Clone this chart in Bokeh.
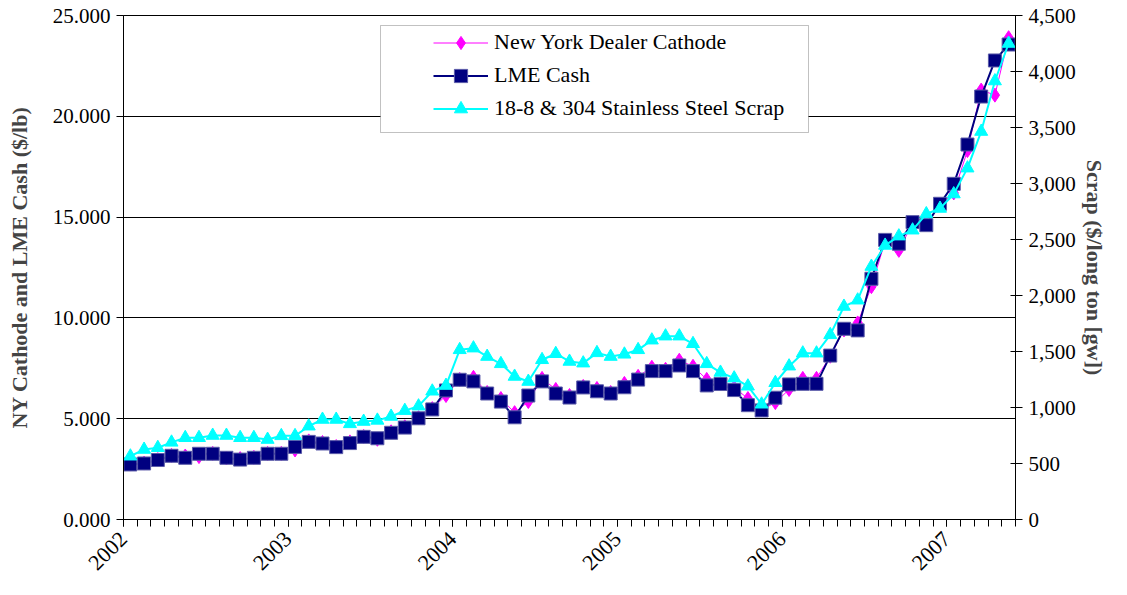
import math
from bokeh.plotting import figure
from bokeh.models import (Range1d, LinearAxis, FixedTicker, NumeralTickFormatter,
                          Legend, LegendItem, BoxAnnotation)
from bokeh.embed import file_html
from bokeh.resources import INLINE

# ---- data (monthly, Jan 2002 .. May 2007) ----
years = ["2002", "2003", "2004", "2005", "2006", "2007"]
months = list(range(65))

ny_cathode = [2.75, 2.80, 2.97, 3.18, 3.15, 3.12, 3.28, 3.05, 3.02, 3.08, 3.28, 3.28,
              3.45, 3.90, 3.82, 3.62, 3.85, 4.12, 3.98, 4.35, 4.60, 5.05, 5.50, 6.15,
              6.95, 7.05, 6.30, 6.00, 5.30, 5.85, 7.00, 6.45, 6.15, 6.60, 6.50, 6.30,
              6.75, 7.10, 7.55, 7.45, 7.90, 7.60, 6.95, 6.75, 6.55, 6.00, 5.45, 5.80,
              6.45, 7.00, 7.00, 8.10, 9.40, 9.75, 11.55, 13.80, 13.35, 14.70, 14.70, 15.60,
              16.20, 18.30, 21.30, 21.05, 23.90]

lme_cash = [2.73, 2.78, 2.95, 3.16, 3.06, 3.26, 3.26, 3.06, 2.97, 3.06, 3.26, 3.26,
            3.60, 3.85, 3.77, 3.59, 3.79, 4.10, 4.03, 4.30, 4.56, 5.02, 5.46, 6.40,
            6.93, 6.85, 6.25, 5.85, 5.07, 6.15, 6.85, 6.25, 6.05, 6.55, 6.36, 6.25,
            6.56, 6.94, 7.36, 7.36, 7.64, 7.36, 6.65, 6.72, 6.42, 5.67, 5.41, 6.04,
            6.70, 6.73, 6.73, 8.13, 9.46, 9.38, 11.94, 13.87, 13.68, 14.75, 14.60, 15.66,
            16.65, 18.60, 20.98, 22.77, 23.56]

scrap = [565, 625, 641, 689, 730, 730, 750, 750, 730, 730, 714, 747,
         747, 833, 893, 893, 854, 875, 885, 920, 972, 1012, 1145, 1196,
         1515, 1530, 1455, 1390, 1277, 1232, 1426, 1480, 1411, 1396, 1488, 1455,
         1475, 1515, 1601, 1637, 1637, 1569, 1390, 1313, 1262, 1190, 1029, 1221,
         1369, 1485, 1485, 1649, 1902, 1958, 2259, 2447, 2530, 2583, 2728, 2777,
         2906, 3137, 3464, 3915, 4250]

left_ticks = [0, 5, 10, 15, 20, 25]
right_ticks = [0, 500, 1000, 1500, 2000, 2500, 3000, 3500, 4000, 4500]

FONT = "Liberation Serif"
W, H = 1111, 579
BL, BR, BT, BB = 123, 96, 15, 60
FW, FH = W - BL - BR, H - BT - BB
N = len(months)

p = figure(width=W, height=H, output_backend="svg", toolbar_location=None,
           x_range=Range1d(-0.5, N - 0.5), y_range=Range1d(0, 25),
           min_border_left=BL, min_border_right=BR, min_border_top=BT, min_border_bottom=BB,
           x_axis_location="below", y_axis_location="left")
p.background_fill_color = "white"
p.border_fill_color = "white"
p.outline_line_color = "black"
p.outline_line_width = 1
p.extra_y_ranges = {"scrap": Range1d(0, 4500)}

# grid
p.xgrid.visible = False
p.ygrid.ticker = FixedTicker(ticks=left_ticks)
p.ygrid.grid_line_color = "black"
p.ygrid.grid_line_width = 1

# x axis
xa = p.xaxis[0]
year_ticks = [-0.5 + 12 * k for k in range(len(years))]
xa.ticker = FixedTicker(ticks=year_ticks, minor_ticks=[-0.5 + k for k in range(N + 1)])
xa.major_label_overrides = {t: y for t, y in zip(year_ticks, years)}
xa.major_label_orientation = math.pi / 4
xa.major_tick_in = 0
xa.major_tick_out = 7
xa.minor_tick_in = 0
xa.minor_tick_out = 7
xa.major_label_standoff = 9
xa.axis_line_color = "black"
xa.major_label_text_font = FONT
xa.major_label_text_font_size = "22px"
xa.major_label_text_color = "black"

# left axis
ya = p.yaxis[0]
ya.ticker = FixedTicker(ticks=left_ticks)
ya.formatter = NumeralTickFormatter(format="0.000")
ya.major_tick_in = 0
ya.major_tick_out = 7
ya.minor_tick_line_color = None
ya.major_label_standoff = 6
ya.major_label_text_font = FONT
ya.major_label_text_font_size = "21px"
ya.major_label_text_color = "black"
ya.axis_label = "NY Cathode and LME Cash ($/lb)"
ya.axis_label_text_font = FONT
ya.axis_label_text_font_size = "22px"
ya.axis_label_text_font_style = "bold"
ya.axis_label_standoff = 18

# right axis
ra = LinearAxis(y_range_name="scrap", ticker=FixedTicker(ticks=right_ticks),
                formatter=NumeralTickFormatter(format="0,0"))
ra.major_tick_in = 5
ra.major_tick_out = 7
ra.minor_tick_line_color = None
ra.major_label_standoff = 6
ra.major_label_text_font = FONT
ra.major_label_text_font_size = "21px"
ra.major_label_text_color = "black"
ra.axis_label = "Scrap ($/long ton [gw])"
ra.axis_label_text_font = FONT
ra.axis_label_text_font_size = "22px"
ra.axis_label_text_font_style = "bold"
ra.axis_label_standoff = 3
p.add_layout(ra, "right")

# series
ny_l = p.line(months, ny_cathode, line_color="#FF00FF", line_width=1)
ny_m = p.scatter(months, ny_cathode, marker="diamond", size=14,
                 fill_color="#FF00FF", line_color="#FF00FF")
lme_l = p.line(months, lme_cash, line_color="#000080", line_width=2)
lme_m = p.scatter(months, lme_cash, marker="square", size=13,
                  fill_color="#000080", line_color="#5a5aa8", line_width=1)
sc_l = p.line(months, scrap, line_color="#00FFFF", line_width=2, y_range_name="scrap")
sc_m = p.scatter(months, scrap, marker="triangle", size=13,
                 fill_color="#00FFFF", line_color="#00FFFF", y_range_name="scrap")

# legend box (pixel layout converted to data space)
px_x = FW / N
px_y = FH / 25.0
def fx(px):
    return -0.5 + (px - BL) / px_x
def fy(py):
    return 25 - (py - BT) / px_y

box = BoxAnnotation(left=fx(380), right=fx(808), top=fy(25), bottom=fy(132),
                    fill_color="white", fill_alpha=1.0, line_color="#333333", line_width=1)
p.add_layout(box)

legend = Legend(items=[
    LegendItem(label="New York Dealer Cathode", renderers=[ny_l, ny_m]),
    LegendItem(label="LME Cash", renderers=[lme_l, lme_m]),
    LegendItem(label="18-8 & 304 Stainless Steel Scrap", renderers=[sc_l, sc_m]),
], location=(433 - BL, (BT + FH) - 124.5), padding=0, margin=0,
    border_line_color=None, background_fill_alpha=0,
    glyph_width=55, glyph_height=33, label_height=33, label_standoff=6, spacing=0,
    label_text_font=FONT, label_text_font_size="22px", label_text_color="black")
p.add_layout(legend)

open("out.html", "w").write(file_html(p, INLINE))
